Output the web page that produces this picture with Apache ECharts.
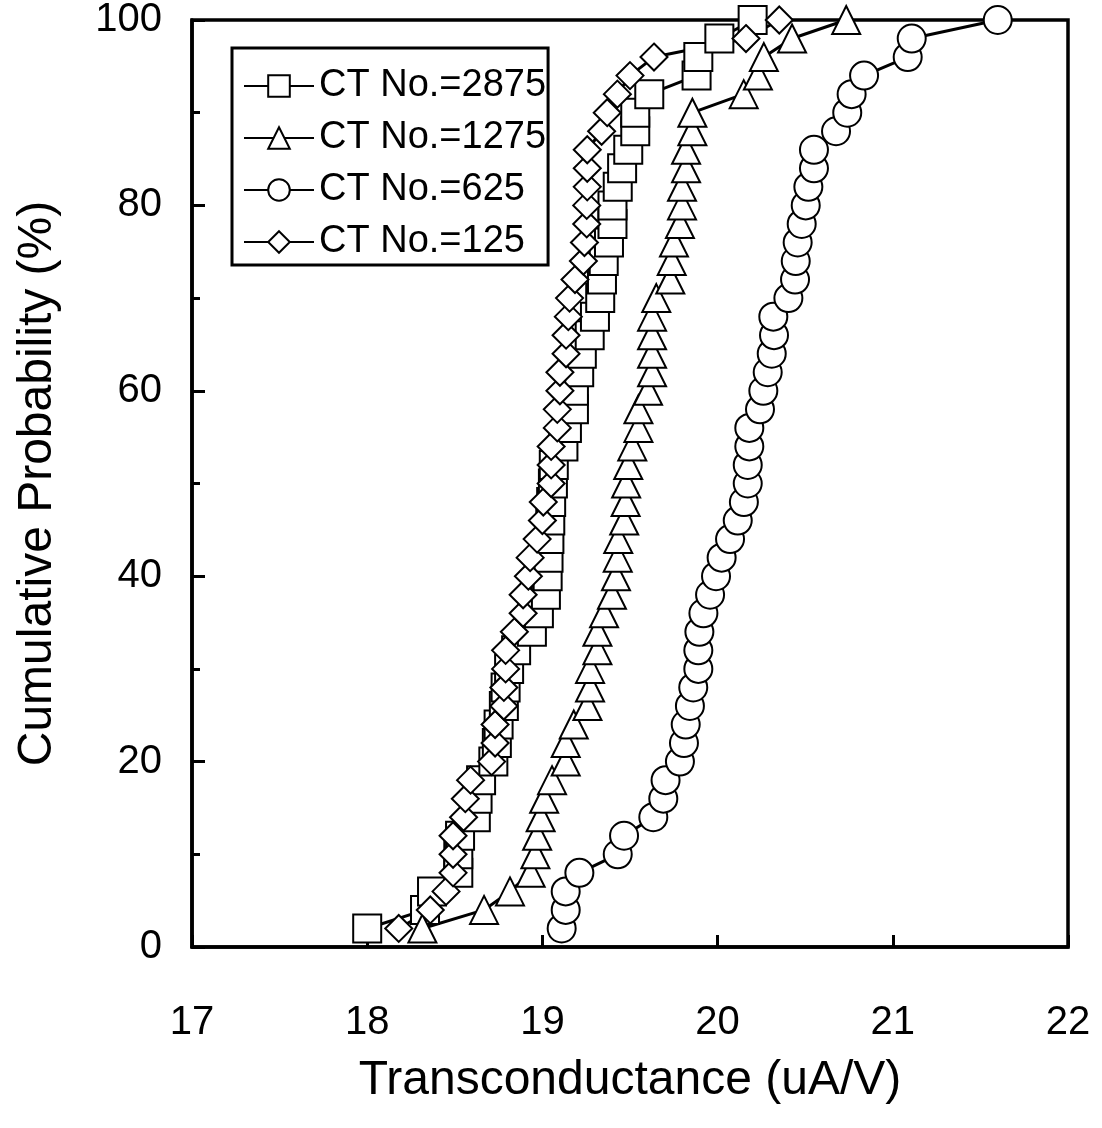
<!DOCTYPE html>
<html>
<head>
<meta charset="utf-8">
<title>Cumulative Probability vs Transconductance</title>
<script src="https://cdn.jsdelivr.net/npm/echarts@6/dist/echarts.min.js"></script>
<style>
  html, body { margin: 0; padding: 0; background: #fff; }
  #chart { width: 1102px; height: 1128px; }
</style>
</head>
<body>
<div id="chart"></div>
<script>
// Cumulative probability levels (%), shared by every series
const probLevels = [2, 4, 6, 8, 10, 12, 14, 16, 18, 20, 22, 24, 26, 28, 30, 32, 34, 36, 38, 40,
  42, 44, 46, 48, 50, 52, 54, 56, 58, 60, 62, 64, 66, 68, 70, 72, 74, 76, 78, 80,
  82, 84, 86, 88, 90, 92, 94, 96, 98, 100];

// Transconductance (uA/V) at each probability level
const ct2875 = [18.00, 18.33, 18.37, 18.52, 18.52, 18.53, 18.62, 18.63, 18.65, 18.72,
  18.74, 18.75, 18.78, 18.79, 18.81, 18.85, 18.94, 18.98, 19.02, 19.03,
  19.035, 19.04, 19.045, 19.05, 19.06, 19.065, 19.12, 19.14, 19.18, 19.18,
  19.21, 19.225, 19.27, 19.30, 19.33, 19.34, 19.35, 19.38, 19.40, 19.40,
  19.43, 19.455, 19.49, 19.53, 19.53, 19.61, 19.88, 19.89, 20.01, 20.20];

const ct1275 = [18.315, 18.667, 18.815, 18.933, 18.96, 18.97, 18.99, 19.01, 19.055, 19.133,
  19.133, 19.179, 19.257, 19.272, 19.272, 19.314, 19.314, 19.352, 19.397, 19.42,
  19.43, 19.433, 19.467, 19.475, 19.478, 19.49, 19.513, 19.548, 19.548, 19.603,
  19.626, 19.626, 19.626, 19.626, 19.65, 19.73, 19.738, 19.751, 19.785, 19.797,
  19.797, 19.82, 19.82, 19.856, 19.856, 20.149, 20.23, 20.264, 20.425, 20.734];

const ct625 = [19.11, 19.133, 19.133, 19.211, 19.43, 19.466, 19.633, 19.69, 19.703, 19.785,
  19.808, 19.818, 19.842, 19.861, 19.89, 19.89, 19.896, 19.919, 19.957, 19.991,
  20.023, 20.071, 20.115, 20.15, 20.172, 20.172, 20.181, 20.181, 20.242, 20.261,
  20.286, 20.309, 20.322, 20.318, 20.404, 20.442, 20.446, 20.457, 20.48, 20.503,
  20.518, 20.55, 20.55, 20.676, 20.74, 20.765, 20.836, 21.085, 21.108, 21.599];

const ct125 = [18.18, 18.36, 18.45, 18.49, 18.49, 18.49, 18.55, 18.56, 18.59, 18.71,
  18.73, 18.73, 18.78, 18.78, 18.79, 18.79, 18.84, 18.89, 18.89, 18.92,
  18.93, 18.97, 19.00, 19.005, 19.05, 19.05, 19.05, 19.085, 19.085, 19.10,
  19.10, 19.135, 19.135, 19.148, 19.155, 19.186, 19.234, 19.24, 19.253, 19.253,
  19.256, 19.256, 19.256, 19.338, 19.37, 19.428, 19.50, 19.637, 20.162, 20.352];

const seriesNames = ['CT No.=2875', 'CT No.=1275', 'CT No.=625', 'CT No.=125'];
const seriesValues = [ct2875, ct1275, ct625, ct125];
const seriesSymbols = ['rect', 'triangle', 'circle', 'diamond'];

const xTickLabels = ['17', '18', '19', '20', '21', '22'];
const yTickLabels = ['0', '20', '40', '60', '80', '100'];

const FONT = '"Liberation Sans", Arial, sans-serif';

const chart = echarts.init(document.getElementById('chart'), null, { renderer: 'canvas' });

const series = seriesNames.map((name, k) => ({
  name: name,
  type: 'line',
  data: seriesValues[k].map((x, i) => [x, probLevels[i]]),
  symbol: seriesSymbols[k],
  symbolSize: seriesSymbols[k] === 'diamond' ? 27 : 28,
  showAllSymbol: true,
  clip: false,
  z: 3,
  lineStyle: { color: '#000', width: 3 },
  itemStyle: { color: '#fff', borderColor: '#000', borderWidth: 2 },
  emphasis: { disabled: true },
  animation: false
}));

chart.setOption({
  animation: false,
  backgroundColor: '#fff',
  grid: {
    left: 192, top: 20, right: 34, bottom: 181,
    show: true, borderColor: '#000', borderWidth: 3.5, backgroundColor: 'transparent'
  },
  legend: {
    orient: 'vertical',
    left: 232, top: 48,
    padding: [19, 2, 4, 11],
    itemGap: 14,
    itemWidth: 70,
    itemHeight: 27,
    borderColor: '#000',
    borderWidth: 3,
    backgroundColor: '#fff',
    selectedMode: false,
    textStyle: { fontFamily: FONT, fontSize: 38, color: '#000', lineHeight: 30, padding: [0, 0, 0, 0] },
    data: seriesNames
  },
  xAxis: {
    type: 'value',
    min: 17, max: 22, interval: 1,
    name: 'Transconductance (uA/V)',
    nameLocation: 'middle',
    nameGap: 110,
    nameTextStyle: { fontFamily: FONT, fontSize: 48, color: '#000' },
    axisLine: { show: true, lineStyle: { color: '#000', width: 3.5 } },
    axisTick: { show: true, inside: true, length: 12, lineStyle: { color: '#000', width: 3 } },
    axisLabel: {
      margin: 56, fontFamily: FONT, fontSize: 40, color: '#000',
      showMinLabel: true, showMaxLabel: true,
      formatter: (v) => xTickLabels[Math.round(v - 17)]
    },
    splitLine: { show: false }
  },
  yAxis: {
    type: 'value',
    min: 0, max: 100, interval: 20,
    name: 'Cumulative Probability (%)',
    nameLocation: 'middle',
    nameGap: 130,
    nameTextStyle: { fontFamily: FONT, fontSize: 48, color: '#000' },
    axisLine: { show: true, lineStyle: { color: '#000', width: 3.5 } },
    axisTick: { show: true, inside: true, length: 13, lineStyle: { color: '#000', width: 3 } },
    minorTick: { show: true, splitNumber: 2, length: 8, lineStyle: { color: '#000', width: 3 } },
    axisLabel: {
      margin: 30, fontFamily: FONT, fontSize: 40, color: '#000',
      showMinLabel: true, showMaxLabel: true,
      formatter: (v) => yTickLabels[Math.round(v / 20)]
    },
    splitLine: { show: false },
    minorSplitLine: { show: false }
  },
  series: series
});
</script>
</body>
</html>
